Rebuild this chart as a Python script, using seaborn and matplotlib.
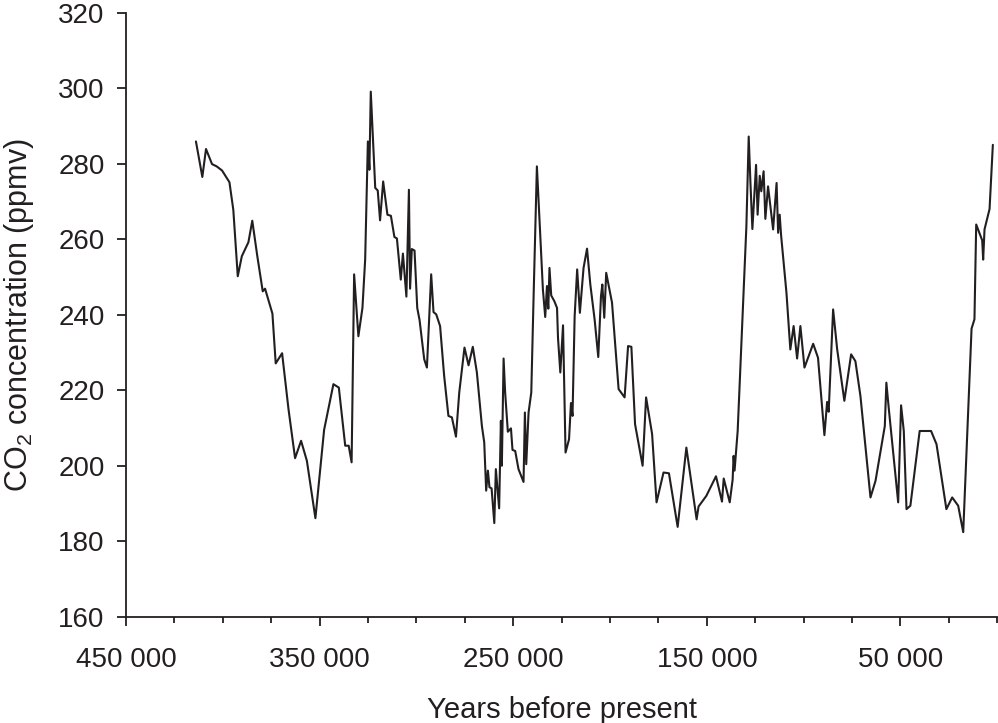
import matplotlib
matplotlib.use('Agg')
import matplotlib.pyplot as plt
import seaborn as sns
import pandas as pd
from matplotlib.ticker import FixedLocator, MultipleLocator, FuncFormatter

# Vostok ice core CO2 (years before present, ppmv)
years = [413900, 410600, 408700, 405600, 403200, 400400, 396600, 394600, 392300, 390200,
         386800, 384800, 382200, 379400, 378200, 374400, 372700, 369400, 366100, 362700,
         359600, 356600, 352200, 347700, 342900, 340100, 336800, 335000, 333500, 332200,
         330000, 327900, 326500, 325100, 324300, 323600, 322700, 321300, 320000, 318800,
         317200, 315000, 313200, 311400, 310100, 308100, 307000, 305200, 303900, 303300,
         302400, 301000, 299600, 298400, 296000, 294600, 292400, 291200, 289800, 287800,
         285700, 283500, 281700, 279600, 277900, 275200, 273100, 270900, 268800, 266200,
         265000, 264000, 263100, 262300, 261200, 259800, 259000, 257300, 256400, 255900,
         255000, 254200, 252800, 251200, 250400, 249000, 247300, 244700, 244000, 243300,
         242100, 240700, 239500, 237800, 236400, 234700, 233500, 232600, 231900, 231300,
         230400, 228800, 227400, 226900, 225700, 224300, 223000, 221200, 220200, 219400,
         218300, 217000, 215600, 213700, 211900, 210200, 208000, 206100, 204700, 204000,
         203000, 202000, 199000, 195600, 192500, 190700, 189000, 187100, 183200, 181400,
         178300, 176000, 172400, 169600, 165100, 160600, 155300, 154300, 150300, 145300,
         142200, 141300, 138200, 136700, 136200, 135700, 134100, 129600, 128400, 127500,
         126500, 124600, 123800, 122700, 121900, 120700, 119800, 118400, 115800, 114000,
         113200, 112400, 111700, 108900, 106900, 105200, 103400, 101700, 99600, 95100,
         92600, 89300, 87900, 87100, 84800, 82700, 79000, 75500, 73300, 70700,
         65500, 62900, 58100, 57300, 56100, 51200, 49700, 48300, 46900, 44900,
         40100, 34200, 31400, 26300, 23300, 20200, 17600, 13300, 11800, 10900,
         7800, 7300, 6600, 4000, 2300]
co2 = [285.9, 276.5, 283.9, 279.9, 279.3, 278.2, 275.1, 267.8, 250.2, 255.5,
       259.2, 264.9, 255.5, 246.2, 246.9, 240.3, 227.1, 229.8, 215.0, 202.0,
       206.6, 201.3, 186.1, 209.5, 221.6, 220.7, 205.3, 205.3, 200.9, 250.7,
       234.3, 241.8, 254.6, 285.9, 278.4, 299.1, 289.0, 273.6, 272.9, 265.0,
       275.3, 266.5, 266.2, 260.6, 260.2, 249.3, 256.2, 244.8, 273.1, 246.9,
       257.4, 257.0, 241.8, 238.6, 228.2, 226.0, 250.7, 240.7, 240.1, 237.0,
       223.8, 213.2, 212.8, 207.7, 219.4, 231.3, 226.6, 231.5, 224.7, 210.5,
       206.2, 193.4, 198.7, 194.3, 194.0, 184.8, 199.1, 188.7, 211.9, 200.0,
       228.4, 219.4, 209.0, 209.9, 204.2, 203.9, 199.1, 195.7, 214.1, 200.4,
       214.1, 219.4, 244.9, 279.3, 264.7, 246.7, 239.4, 247.6, 241.6, 252.4,
       245.1, 243.6, 241.8, 233.9, 224.7, 237.2, 203.5, 207.0, 216.6, 213.2,
       239.6, 252.0, 240.5, 252.4, 257.5, 248.0, 238.8, 228.8, 244.9, 248.0,
       239.2, 251.1, 243.2, 220.3, 218.1, 231.7, 231.5, 211.0, 200.0, 218.1,
       208.4, 190.3, 198.2, 198.0, 183.8, 204.8, 185.8, 189.2, 192.0, 197.2,
       190.5, 196.6, 190.3, 196.3, 202.6, 198.7, 209.2, 263.4, 287.2, 274.9,
       262.7, 279.7, 266.5, 276.8, 272.7, 278.0, 265.4, 274.0, 262.6, 274.9,
       261.7, 266.5, 261.2, 245.8, 230.8, 237.0, 228.4, 237.0, 226.0, 232.3,
       228.6, 208.1, 216.9, 214.3, 241.4, 230.8, 217.2, 229.5, 227.7, 218.5,
       191.6, 196.0, 210.5, 222.0, 215.4, 190.3, 216.0, 209.2, 188.5, 189.4,
       209.2, 209.2, 205.7, 188.5, 191.6, 189.4, 182.4, 236.3, 238.8, 263.9,
       259.7, 254.6, 262.6, 268.0, 285.0]

x_major = [450000, 350000, 250000, 150000, 50000]
y_ticks = [160, 180, 200, 220, 240, 260, 280, 300, 320]

df = pd.DataFrame({'years': years, 'co2': co2})

sns.set_style('ticks')
plt.rcParams['font.family'] = ['Liberation Sans', 'DejaVu Sans']
plt.rcParams['mathtext.default'] = 'regular'

ink = '#231f20'
fig = plt.figure(figsize=(9.98, 7.23), dpi=100)
ax = fig.add_axes([0.1263, 0.147, 0.873, 0.8354])

sns.lineplot(data=df, x='years', y='co2', ax=ax, estimator=None, sort=False,
             color=ink, linewidth=1.5)

ax.set_xlim(450000, 0)
ax.set_ylim(160, 320)
ax.xaxis.set_major_locator(FixedLocator(x_major))
ax.xaxis.set_minor_locator(MultipleLocator(25000))
ax.xaxis.set_major_formatter(FuncFormatter(lambda v, p: f'{int(v):,}'.replace(',', ' ')))
ax.set_yticks(y_ticks)

ax.tick_params(axis='both', which='major', direction='out', length=6.5, width=1.3,
               color=ink, labelcolor=ink, labelsize=20)
ax.tick_params(axis='x', which='minor', direction='out', length=4.3, width=1.3, color=ink)
ax.tick_params(axis='x', which='major', pad=15.5)
ax.tick_params(axis='y', which='major', pad=9)

for s in ['top', 'right']:
    ax.spines[s].set_visible(False)
for s in ['left', 'bottom']:
    ax.spines[s].set_color(ink)
    ax.spines[s].set_linewidth(1.3)

ax.set_xlabel('Years before present', fontsize=21, color=ink, labelpad=16.5)
ax.set_ylabel(r'CO$_2$ concentration (ppmv)', fontsize=22, color=ink, labelpad=16)

fig.savefig('out.png', dpi=100)
